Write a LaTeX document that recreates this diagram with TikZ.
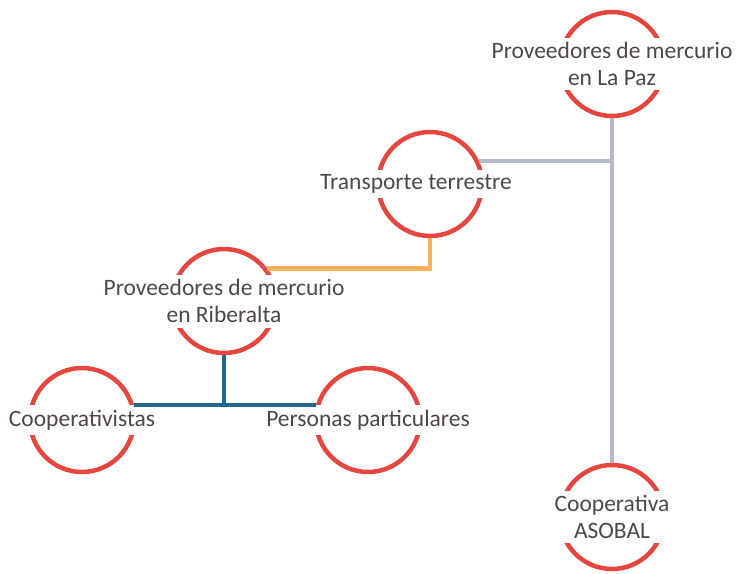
\documentclass[tikz,border=0pt]{standalone}
\usepackage{fontspec}
\setmainfont{Carlito}
\usepackage{tikz}
\usetikzlibrary{positioning}
\definecolor{ringred}{HTML}{E5473F}
\definecolor{textgray}{HTML}{4D4845}
\definecolor{linkgray}{HTML}{B4BCC9}
\definecolor{linkorange}{HTML}{F9B257}
\definecolor{linkteal}{HTML}{236A8A}
\tikzset{
    ring/.style={
           circle,
           draw=ringred, line width=4.5pt,
           minimum size=104pt,
           inner sep=0pt,
           },
    caption/.style={
           fill=white,
           text=textgray,
           align=center,
           inner xsep=2pt, inner ysep=5pt,
           font=\fontsize{23.5}{26.5}\selectfont,
           },
    link/.style={line width=4.5pt},
}

\begin{document}
\begin{tikzpicture}

 \useasboundingbox (0,0) rectangle (738pt,-573pt);

 % rings (positions taken from the layout)
 \node[ring] (La Paz) at (612pt,-64pt) {};
 \node[ring,
  below of=La Paz,
  node distance=453pt,
  anchor=center] (ASOBAL) {};
 \node[ring] (Transporte) at (430pt,-184pt) {};
 \node[ring] (Riberalta) at (224pt,-301pt) {};
 \node[ring] (Cooperativistas) at (82pt,-420pt) {};
 \node[ring,
  right of=Cooperativistas,
  node distance=286pt,
  anchor=center] (Personas) {};

 % texts on top, white box cuts the ring
 \node[caption] at (La Paz) {Proveedores de mercurio\\en La Paz};
 \node[caption] at (ASOBAL) {Cooperativa\\ASOBAL};
 \node[caption,xshift=-14pt] at (Transporte) {Transporte terrestre};
 \node[caption] at (Riberalta) {Proveedores de mercurio\\en Riberalta};
 \node[caption] at (Cooperativistas) {Cooperativistas};
 \node[caption] at (Personas) {Personas particulares};

 % connectors
 \draw[link,linkgray] (La Paz.south) -- (ASOBAL.north);
 \draw[link,linkgray] (Transporte.25) -- (Transporte.25 -| La Paz.south);
 \draw[link,linkorange] (Transporte.south) |- (Riberalta.37);
 \draw[link,linkteal] (Riberalta.south) -- (Riberalta.south |- Cooperativistas.16);
 \draw[link,linkteal] (Cooperativistas.16) -- (Personas.164);

\end{tikzpicture}
\end{document}
